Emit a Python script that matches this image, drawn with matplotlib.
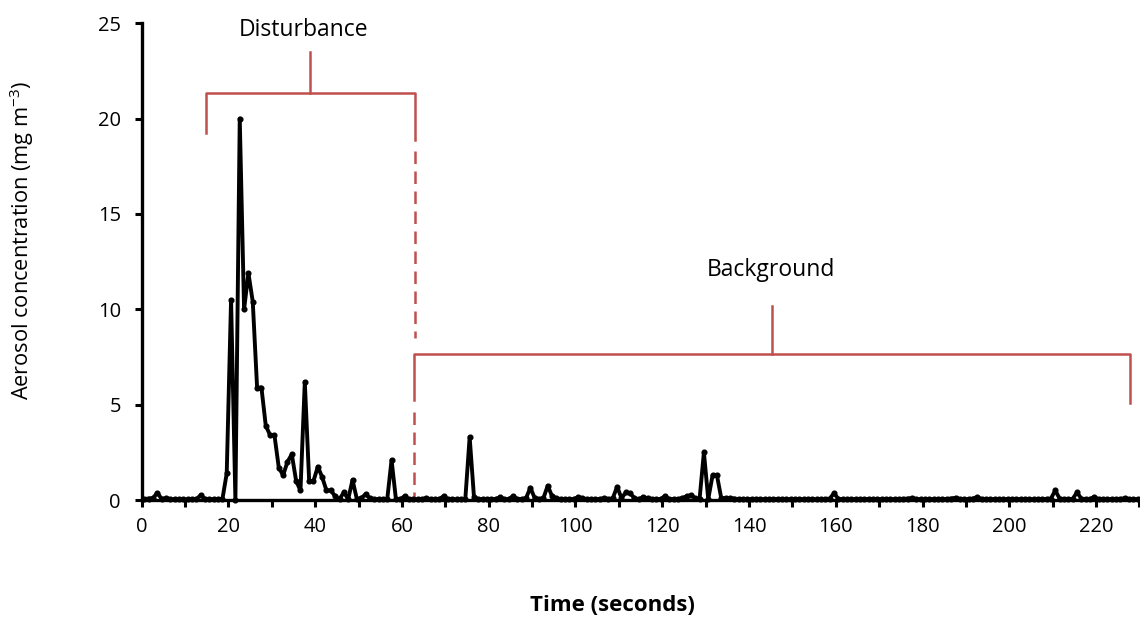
import numpy as np
import matplotlib
matplotlib.use("Agg")
import matplotlib.pyplot as plt

plt.rcParams['font.family'] = ['Open Sans', 'DejaVu Sans']
plt.rcParams['mathtext.default'] = 'regular'

# sampling: one reading per second, first reading at 0.6 s
t_start = 0.6
conc = [
    0.05, 0.08, 0.10, 0.38, 0.06, 0.10, 0.05, 0.04, 0.04, 0.04,   # 0-9
    0.04, 0.04, 0.05, 0.25, 0.06, 0.05, 0.04, 0.05, 0.04, 1.40,   # 10-19
    10.5, 0.00, 20.0, 10.0, 11.9, 10.4, 5.90, 5.90, 3.90, 3.40,   # 20-29
    3.40, 1.70, 1.30, 2.00, 2.40, 1.00, 0.50, 6.20, 1.00, 1.00,   # 30-39
    1.75, 1.20, 0.50, 0.50, 0.20, 0.05, 0.40, 0.05, 1.05, 0.05,   # 40-49
    0.10, 0.30, 0.10, 0.05, 0.05, 0.04, 0.04, 2.10, 0.05, 0.04,   # 50-59
    0.20, 0.05, 0.05, 0.04, 0.05, 0.10, 0.05, 0.04, 0.05, 0.20,   # 60-69
    0.05, 0.05, 0.04, 0.05, 0.05, 3.30, 0.15, 0.05, 0.05, 0.04,   # 70-79
    0.05, 0.05, 0.15, 0.05, 0.05, 0.20, 0.05, 0.05, 0.10, 0.65,   # 80-89
    0.10, 0.05, 0.10, 0.75, 0.20, 0.10, 0.05, 0.05, 0.05, 0.05,   # 90-99
    0.15, 0.10, 0.05, 0.05, 0.05, 0.05, 0.10, 0.05, 0.10, 0.70,   # 100-109
    0.10, 0.40, 0.35, 0.10, 0.05, 0.15, 0.10, 0.05, 0.05, 0.05,   # 110-119
    0.20, 0.05, 0.05, 0.05, 0.10, 0.20, 0.25, 0.10, 0.05, 2.50,   # 120-129
    0.05, 1.30, 1.30, 0.10, 0.10, 0.10, 0.08, 0.05, 0.05, 0.05,   # 130-139
    0.05, 0.06, 0.05, 0.04, 0.05, 0.05, 0.06, 0.05, 0.04, 0.05,   # 140-149
    0.05, 0.04, 0.05, 0.06, 0.05, 0.04, 0.05, 0.05, 0.08, 0.35,   # 150-159
    0.06, 0.05, 0.04, 0.05, 0.05, 0.04, 0.05, 0.06, 0.05, 0.04,   # 160-169
    0.05, 0.05, 0.04, 0.05, 0.05, 0.06, 0.08, 0.10, 0.05, 0.04,   # 170-179
    0.05, 0.05, 0.04, 0.05, 0.06, 0.05, 0.08, 0.12, 0.05, 0.04,   # 180-189
    0.05, 0.08, 0.15, 0.06, 0.05, 0.04, 0.05, 0.05, 0.04, 0.05,   # 190-199
    0.05, 0.04, 0.05, 0.06, 0.05, 0.04, 0.05, 0.05, 0.06, 0.08,   # 200-209
    0.50, 0.08, 0.05, 0.05, 0.06, 0.40, 0.08, 0.05, 0.06, 0.15,   # 210-219
    0.05, 0.04, 0.05, 0.05, 0.04, 0.06, 0.10, 0.05, 0.04, 0.05,   # 220-229
]
time_s = t_start + np.arange(len(conc))

x_ticks = list(range(0, 231, 10))
x_labels = [str(v) if v % 20 == 0 else '' for v in x_ticks]
y_ticks = [0, 5, 10, 15, 20, 25]

red = '#C0504D'

fig = plt.figure(figsize=(11.4, 6.2), dpi=100)
ax = fig.add_axes([0.1243, 0.1935, 0.8752, 0.7689])

ax.plot(time_s, conc, color='black', lw=2.8, marker='o', markersize=3.4,
        zorder=3, clip_on=False)

ax.set_xlim(0, 230)
ax.set_ylim(0, 25)
ax.set_xticks(x_ticks)
ax.set_xticklabels(x_labels)
ax.set_yticks(y_ticks)
ax.tick_params(direction='out', length=5, width=2.2, labelsize=14.5, pad=7)
ax.tick_params(axis='y', pad=10)
for s in ['top', 'right']:
    ax.spines[s].set_visible(False)
for s in ['left', 'bottom']:
    ax.spines[s].set_linewidth(2.4)

# brackets
kw = dict(color=red, lw=1.8, clip_on=False, zorder=2)
ax.plot([14.85, 14.85, 63.1, 63.1], [19.24, 21.34, 21.34, 18.9], **kw)
ax.plot([38.9, 38.9], [21.34, 23.5], **kw)
ax.plot([63.1, 63.1], [18.3, 8.5], ls=(0, (5, 3)), **kw)
ax.text(37.3, 24.65, 'Disturbance', ha='center', va='center', fontsize=16.5)

ax.plot([62.7, 62.7, 227.8, 227.8], [5.24, 7.66, 7.66, 5.09], **kw)
ax.plot([145.3, 145.3], [7.66, 10.2], **kw)
ax.plot([62.7, 62.7], [4.6, 0.16], ls=(0, (5, 3)), **kw)
ax.text(145.1, 12.06, 'Background', ha='center', va='center', fontsize=16.5)

fig.text(0.0193, 0.613, 'Aerosol concentration (mg m$^{-3}$)', rotation=90,
         ha='center', va='center', fontsize=15.7)
fig.text(0.537, 0.0226, 'Time (seconds)', ha='center', va='center',
         fontsize=16, fontweight='bold')

fig.savefig('out.png', dpi=100)
